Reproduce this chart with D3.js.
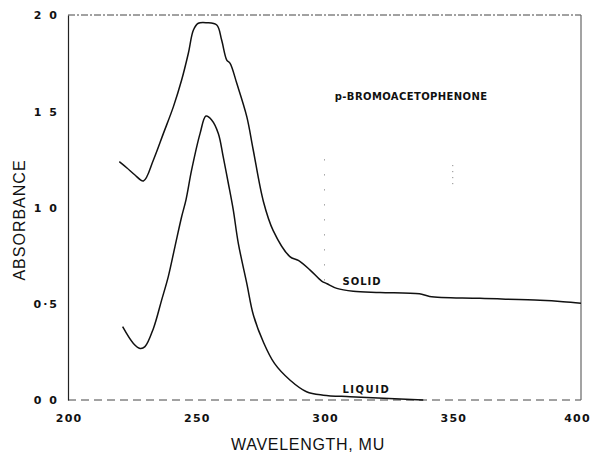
<!DOCTYPE html>
<html>
<head>
<meta charset="utf-8">
<script src="https://cdn.jsdelivr.net/npm/d3@7/dist/d3.min.js"></script>
<style>
  html, body { margin: 0; padding: 0; background: #fff; }
  svg { display: block; }
  .tick text { font-family: "DejaVu Sans", sans-serif; font-weight: bold; font-size: 11px; fill: #111; }
</style>
</head>
<body>
<svg id="chart" width="594" height="454"></svg>
<script>
// ---- data ----
const xTicks = [200, 250, 300, 350, 400];
const yTicks = [0, 0.5, 1.0, 1.5, 2.0];
const yTickLabels = ["0 0", "0·5", "1 0", "1 5", "2 0"];

const solidWavelength = [220, 223, 226, 229.4, 233.3, 237.2, 241.1, 244.3, 246.9, 248.9, 250.8, 254.1, 258.0, 259.9, 261.9, 263.2, 265.8, 269.7, 272.2, 276.2, 280, 286.5, 289.8, 294.4, 298.9, 301, 304.8, 311.2, 321.6, 337, 341, 360.6, 384, 393, 400];
const solidAbsorbance = [1.238, 1.205, 1.170, 1.138, 1.247, 1.385, 1.524, 1.662, 1.80, 1.922, 1.957, 1.960, 1.948, 1.870, 1.766, 1.749, 1.645, 1.472, 1.30, 1.03, 0.88, 0.745, 0.725, 0.675, 0.618, 0.604, 0.58, 0.565, 0.559, 0.552, 0.538, 0.528, 0.518, 0.511, 0.503];

const liquidWavelength = [221.3, 225.5, 228.1, 230.0, 233.3, 236.5, 239.1, 241.7, 244.3, 246.0, 248.2, 251.5, 253.8, 256.0, 258.6, 260.5, 262.5, 264.4, 266.4, 269.7, 272.3, 276.2, 280.5, 286.5, 293, 299.5, 310, 323, 338.5];
const liquidAbsorbance = [0.381, 0.294, 0.268, 0.277, 0.372, 0.519, 0.641, 0.797, 0.952, 1.04, 1.195, 1.385, 1.475, 1.455, 1.385, 1.264, 1.126, 0.99, 0.814, 0.606, 0.44, 0.30, 0.19, 0.104, 0.043, 0.025, 0.017, 0.009, 0.0];

const title = "p-BROMOACETOPHENONE";
const xTitle = "WAVELENGTH, MU";
const yTitle = "ABSORBANCE";

// ---- layout ----
const svg = d3.select("#chart");
const margin = { left: 68, top: 15, right: 13, bottom: 54 };
const W = 594, H = 454;
const x = d3.scaleLinear().domain([200, 400]).range([margin.left, W - margin.right]);
const y = d3.scaleLinear().domain([0, 2]).range([H - margin.bottom, margin.top]);

// frame
svg.append("line").attr("x1", x(200)).attr("x2", x(400)).attr("y1", y(2)).attr("y2", y(2))
  .attr("stroke", "#444").attr("stroke-width", 1).attr("stroke-dasharray", "7,2,2,2");
svg.append("line").attr("x1", x(200)).attr("x2", x(400)).attr("y1", y(0)).attr("y2", y(0))
  .attr("stroke", "#444").attr("stroke-width", 1).attr("stroke-dasharray", "8,5");
svg.append("line").attr("x1", x(400)).attr("x2", x(400)).attr("y1", y(2)).attr("y2", y(0))
  .attr("stroke", "#666").attr("stroke-width", 1.2);

// faint vertical dotted marks
svg.append("line").attr("x1", x(300)).attr("x2", x(300)).attr("y1", y(1.25)).attr("y2", y(0.55))
  .attr("stroke", "#777").attr("stroke-width", 1).attr("stroke-dasharray", "1,14");
svg.append("line").attr("x1", x(350)).attr("x2", x(350)).attr("y1", y(1.22)).attr("y2", y(1.12))
  .attr("stroke", "#777").attr("stroke-width", 1).attr("stroke-dasharray", "1,5");

// axes
const yAxis = d3.axisLeft(y).tickValues(yTicks).tickSize(0).tickPadding(9)
  .tickFormat((d, i) => yTickLabels[i]);
const gy = svg.append("g").attr("transform", `translate(${x(200)},0)`).call(yAxis);
gy.select(".domain").attr("stroke", "#222").attr("stroke-width", 1.2);
gy.selectAll(".tick text").attr("letter-spacing", "2px").attr("dy", "0.35em");

const xAxis = d3.axisBottom(x).tickValues(xTicks).tickSize(0).tickPadding(14);
const gx = svg.append("g").attr("transform", `translate(0,${y(0)})`).call(xAxis);
gx.select(".domain").remove();
gx.selectAll(".tick text").attr("letter-spacing", "1.2px")
  .attr("dx", d => d === 400 ? "-4px" : "0.6px");

// curves
const line = d3.line().x(d => x(d[0])).y(d => y(d[1])).curve(d3.curveCatmullRom.alpha(0.5));
svg.append("path").datum(solidWavelength.map((w, i) => [w, solidAbsorbance[i]]))
  .attr("d", line).attr("fill", "none").attr("stroke", "#111").attr("stroke-width", 1.5);
svg.append("path").datum(liquidWavelength.map((w, i) => [w, liquidAbsorbance[i]]))
  .attr("d", line).attr("fill", "none").attr("stroke", "#111").attr("stroke-width", 1.5);

// labels
const lab = (txt, px, py, size, opts = {}) => svg.append("text").text(txt)
  .attr("x", px).attr("y", py)
  .attr("font-family", opts.family || "DejaVu Sans, sans-serif")
  .attr("font-size", size).attr("font-weight", opts.weight || "bold")
  .attr("letter-spacing", opts.ls || "0px")
  .attr("text-anchor", opts.anchor || "start")
  .attr("fill", "#111");

lab(title, x(304), y(1.56), 10, { ls: "0.4px" });
lab("SOLID", x(307), y(0.6), 10, { ls: "1px" });
lab("LIQUID", x(307), y(0.035), 10, { ls: "1.5px" });

lab(xTitle, 308, 450, 16, { weight: "normal", ls: "0.7px", anchor: "middle", family: "Liberation Sans, sans-serif" });
svg.append("text").text(yTitle)
  .attr("transform", `translate(25,220) rotate(-90)`)
  .attr("text-anchor", "middle")
  .attr("font-family", "Liberation Sans, sans-serif")
  .attr("font-size", 16).attr("letter-spacing", "1px").attr("fill", "#111");
</script>
</body>
</html>
